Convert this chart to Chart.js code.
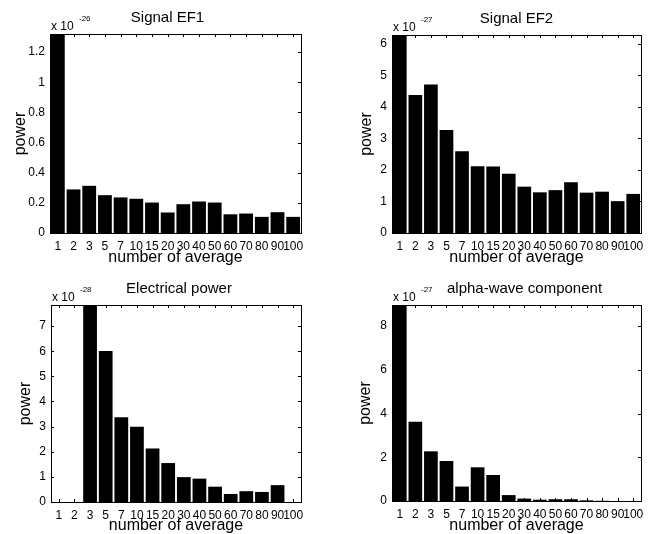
<!DOCTYPE html>
<html>
<head>
<meta charset="utf-8">
<script src="https://cdn.jsdelivr.net/npm/chart.js@4.4.0/dist/chart.umd.min.js"></script>
<style>
  body { margin: 0; background: #fff; }
  #wrap { position: relative; width: 655px; height: 534px; overflow: hidden; }
  .painel { position: absolute; }
</style>
</head>
<body>
<div id="wrap">
  <div class="painel" style="left:0;top:0;width:327px;height:267px"><canvas id="g1"></canvas></div>
  <div class="painel" style="left:327px;top:0;width:328px;height:267px"><canvas id="g2"></canvas></div>
  <div class="painel" style="left:0;top:267px;width:327px;height:267px"><canvas id="g3"></canvas></div>
  <div class="painel" style="left:327px;top:267px;width:328px;height:267px"><canvas id="g4"></canvas></div>
</div>
<script>
const categorias = ['1', '2', '3', '5', '7', '10', '15', '20', '30', '40', '50', '60', '70', '80', '90', '100'];

const sinalEF1 = [1.32, 0.289, 0.313, 0.251, 0.236, 0.227, 0.202, 0.136, 0.191, 0.209, 0.202, 0.124, 0.129, 0.107, 0.138, 0.107];
const sinalEF2 = [6.28, 4.38, 4.71, 3.27, 2.59, 2.12, 2.11, 1.88, 1.47, 1.29, 1.36, 1.61, 1.28, 1.31, 1.01, 1.24];
const potenciaEletrica = [0, 0, 7.84, 6.01, 3.37, 2.99, 2.13, 1.55, 0.99, 0.93, 0.61, 0.32, 0.43, 0.40, 0.67, 0];
const ondaAlfa = [8.96, 3.62, 2.27, 1.83, 0.66, 1.54, 1.19, 0.27, 0.11, 0.06, 0.08, 0.08, 0.03, 0.01, 0, 0];

const titulos = ['Signal EF1', 'Signal EF2', 'Electrical power', 'alpha-wave component'];
const expoentes = ['-26', '-27', '-28', '-27'];
const passos = [0.2, 1, 1, 2];

const fonte = '"Liberation Sans", Arial, sans-serif';

// layout de cada painel: largura do eixo y, altura do eixo x, margens
const paineis = [
  { id: 'g1', dados: sinalEF1, eixoY: 50, eixoX: 34, topo: 34, direita: 26, padTituloY: 11, padTituloX: 0, desloc: -8 },
  { id: 'g2', dados: sinalEF2, eixoY: 65, eixoX: 34, topo: 35, direita: 14, padTituloY: 30, padTituloX: 0, desloc: 0 },
  { id: 'g3', dados: potenciaEletrica, eixoY: 51, eixoX: 32, topo: 38, direita: 26, padTituloY: 16, padTituloX: -1, desloc: 3 },
  { id: 'g4', dados: ondaAlfa, eixoY: 65, eixoX: 33, topo: 38, direita: 14, padTituloY: 29, padTituloX: -1, desloc: 8 }
];

const molduraMatlab = {
  id: 'molduraMatlab',
  afterDatasetsDraw(chart, args, opts) {
    const { ctx, chartArea: a, scales: { x, y } } = chart;
    const t = 3;
    ctx.save();
    ctx.strokeStyle = '#000';
    ctx.lineWidth = 1;
    ctx.beginPath();
    x.ticks.forEach((_, i) => {
      const px = Math.round(x.getPixelForTick(i)) + 0.5;
      ctx.moveTo(px, a.top); ctx.lineTo(px, a.top + t);
      ctx.moveTo(px, a.bottom); ctx.lineTo(px, a.bottom - t);
    });
    y.ticks.forEach((_, i) => {
      const py = Math.round(y.getPixelForTick(i)) + 0.5;
      ctx.moveTo(a.left, py); ctx.lineTo(a.left + t, py);
      ctx.moveTo(a.right, py); ctx.lineTo(a.right - t, py);
    });
    ctx.stroke();
    ctx.strokeRect(Math.round(a.left) + 0.5, Math.round(a.top) + 0.5, Math.round(a.right - a.left), Math.round(a.bottom - a.top));

    ctx.fillStyle = '#000';
    ctx.textBaseline = 'middle';
    ctx.textAlign = 'left';
    ctx.font = '12px ' + fonte;
    ctx.fillText('x 10', a.left + 1, a.top - 7);
    ctx.font = '8px ' + fonte;
    ctx.fillText(opts.expoente, a.left + 29, a.top - 15);
    ctx.font = '15px ' + fonte;
    ctx.textAlign = 'center';
    ctx.fillText(opts.titulo, (a.left + a.right) / 2 + opts.desloc, a.top - 16);
    ctx.restore();
  }
};

paineis.forEach((p, i) => {
  const ctx = document.getElementById(p.id).getContext('2d');
  new Chart(ctx, {
    type: 'bar',
    data: {
      labels: categorias,
      datasets: [{
        data: p.dados,
        backgroundColor: '#000',
        borderWidth: 0,
        barPercentage: 0.88,
        categoryPercentage: 1
      }]
    },
    options: {
      responsive: true,
      maintainAspectRatio: false,
      animation: false,
      layout: { padding: { left: 0, top: p.topo, right: p.direita, bottom: 0 } },
      plugins: {
        legend: { display: false },
        tooltip: { enabled: false },
        molduraMatlab: { titulo: titulos[i], expoente: expoentes[i], desloc: p.desloc }
      },
      scales: {
        x: {
          offset: true,
          grid: { display: false, drawTicks: false },
          border: { display: false },
          ticks: { color: '#000', font: { family: fonte, size: 12 }, autoSkip: false, maxRotation: 0, minRotation: 0, padding: 6 },
          title: { display: true, text: 'number of average', color: '#000', font: { family: fonte, size: 16 }, padding: { top: 0, bottom: p.padTituloX } },
          afterFit: s => { s.height = p.eixoX; }
        },
        y: {
          min: 0,
          max: Math.max(...p.dados),
          grid: { display: false, drawTicks: false },
          border: { display: false },
          ticks: {
            color: '#000',
            font: { family: fonte, size: 12 },
            stepSize: passos[i],
            includeBounds: false,
            padding: 5,
            callback: v => String(+v.toFixed(2))
          },
          title: { display: true, text: 'power', color: '#000', font: { family: fonte, size: 16 }, padding: { top: p.padTituloY, bottom: 0 } },
          afterFit: s => { s.width = p.eixoY; }
        }
      }
    },
    plugins: [molduraMatlab]
  });
});
</script>
</body>
</html>
